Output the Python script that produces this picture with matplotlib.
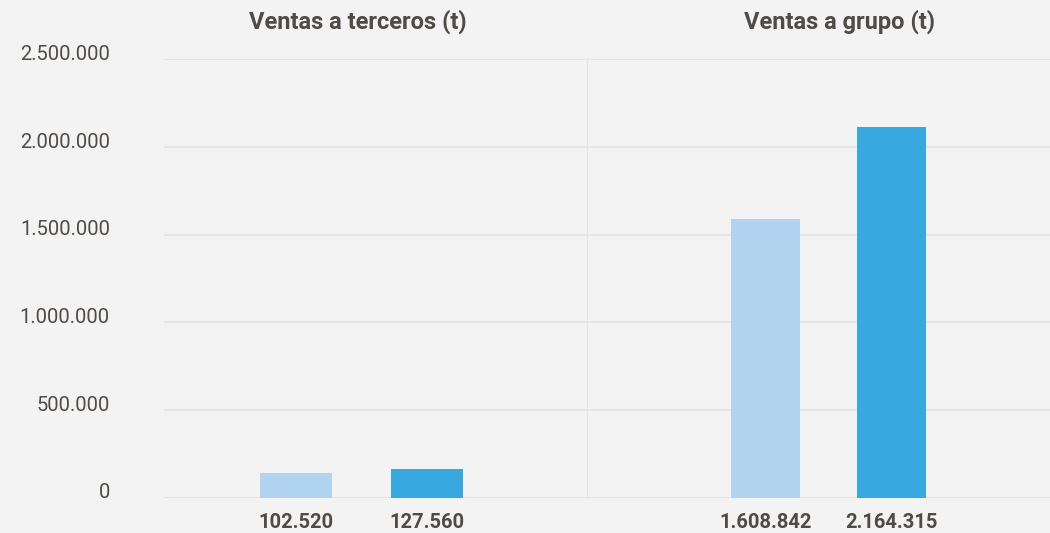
import matplotlib.pyplot as plt
from matplotlib.ticker import FuncFormatter
import matplotlib.transforms as mtransforms

PANEL_TITLES = ['Ventas a terceros (t)', 'Ventas a grupo (t)']
# bar heights, labels as printed under the bars
TERCEROS = [141000, 164000]
GRUPO = [1589000, 2115000]
TERCEROS_LABELS = ['102.520', '127.560']
GRUPO_LABELS = ['1.608.842', '2.164.315']
Y_TICKS = [0, 500000, 1000000, 1500000, 2000000, 2500000]

BG = '#f3f3f3'
GRID = '#e6e6e6'
TEXT = '#4f4b46'
COLORS = ['#b1d4f1', '#37a9e0']

plt.rcParams['font.family'] = ['Roboto', 'DejaVu Sans']

W, H = 1050, 533
fig = plt.figure(figsize=(W / 100, H / 100), dpi=100, facecolor=BG)

bottom = (H - 497.7) / H
top = (H - 59.3) / H
ax1 = fig.add_axes([164 / W, bottom, (588 - 164) / W, top - bottom])
ax2 = fig.add_axes([588 / W, bottom, (1050 - 588) / W, top - bottom])


def thousands(v, pos):
    return f'{int(v):,}'.replace(',', '.')


for ax, vals, labels, xlim in [(ax1, TERCEROS, TERCEROS_LABELS, (-1.01, 2.226)),
                               (ax2, GRUPO, GRUPO_LABELS, (-1.406, 2.254))]:
    ax.set_facecolor(BG)
    ax.bar(range(len(vals)), vals, width=0.55, color=COLORS, zorder=3)
    ax.set_xlim(*xlim)
    ax.set_ylim(0, 2500000)
    ax.set_yticks(Y_TICKS)
    ax.grid(axis='y', color=GRID, linewidth=1.5, zorder=0)
    ax.set_xticks(range(len(vals)))
    ax.set_xticklabels(labels, fontsize=14.5, fontweight='bold', color=TEXT)
    ax.tick_params(axis='x', length=0, pad=11)
    for s in ['top', 'left', 'bottom', 'right']:
        ax.spines[s].set_visible(False)

ax1.spines['right'].set_visible(True)
ax1.spines['right'].set_color(GRID)
ax1.spines['right'].set_linewidth(1.5)

ax1.yaxis.set_major_formatter(FuncFormatter(thousands))
ax1.tick_params(axis='y', length=0, pad=39, labelsize=14.5, labelcolor=TEXT)
offset = mtransforms.ScaledTranslation(0, 5 / 72, fig.dpi_scale_trans)
for lbl in ax1.get_yticklabels():
    lbl.set_transform(lbl.get_transform() + offset)
ax2.tick_params(axis='y', length=0, labelleft=False)

fig.text(358 / W, (H - 22) / H, PANEL_TITLES[0], ha='center', va='center',
         fontsize=17, fontweight='bold', color=TEXT)
fig.text(839 / W, (H - 22) / H, PANEL_TITLES[1], ha='center', va='center',
         fontsize=17, fontweight='bold', color=TEXT)

fig.savefig('out.png', dpi=100, facecolor=BG)
